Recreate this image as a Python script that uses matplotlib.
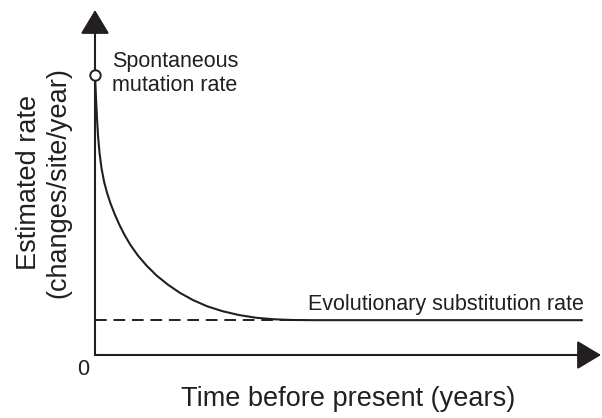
import matplotlib
matplotlib.use('Agg')
import matplotlib.pyplot as plt

plt.rcParams['font.family'] = ['Liberation Sans', 'DejaVu Sans']

# curve (arbitrary units, 0-100 on both axes)
time_pts = [0.0, 0.2, 0.4, 0.6, 0.9, 1.3, 1.8, 2.4, 3.1, 3.9, 4.8, 5.8, 7.0,
            8.5, 10.2, 12.2, 14.4, 16.8, 19.4, 22.2, 25.2, 28.4, 31.8, 35.4,
            39.0, 43.0, 96.4]
rate_pts = [81.2, 74.5, 68.5, 63.5, 58.5, 54.0, 50.2, 46.9, 43.8, 40.8, 37.8,
            34.9, 31.9, 28.8, 25.9, 23.0, 20.4, 18.0, 15.9, 14.1, 12.7, 11.6,
            10.8, 10.35, 10.15, 10.1, 10.1]
subst_rate = 10.1
dash_end = 41.5

ink = '#231f20'

fig = plt.figure(figsize=(6.02, 4.18), dpi=100)
W, H = 602.0, 418.0
ax = fig.add_axes([95 / W, (H - 355) / H, (601 - 95) / W, (355 - 10) / H])
ax.set_xlim(0, 100)
ax.set_ylim(0, 100)
for s in ax.spines.values():
    s.set_visible(False)
ax.set_xticks([])
ax.set_yticks([])
ax.patch.set_alpha(0)

# axes with arrow heads
arr = dict(arrowstyle='-|>,head_length=0.75,head_width=0.45', lw=1.5,
           color=ink, shrinkA=0, shrinkB=0, mutation_scale=20)
ax.annotate('', xy=(1, 0), xytext=(0, 0), xycoords='axes fraction',
            textcoords='axes fraction', arrowprops=arr)
ax.annotate('', xy=(0, 1), xytext=(0, 0), xycoords='axes fraction',
            textcoords='axes fraction', arrowprops=arr)

ax.plot([0, dash_end], [subst_rate, subst_rate], color=ink, lw=1.4,
        dashes=(6, 3.5), clip_on=False)
ax.plot(time_pts, rate_pts, color=ink, lw=1.5, clip_on=False,
        solid_capstyle='butt', solid_joinstyle='round')
ax.plot([time_pts[0]], [rate_pts[0]], 'o', ms=7.5, mfc='white', mec=ink,
        mew=1.4, clip_on=False, zorder=5)

ax.text(3.4, 81.6, 'Spontaneous\nmutation rate', ha='left', va='center',
        fontsize=15.5, color=ink)
ax.text(42.1, 13.0, 'Evolutionary substitution rate', ha='left',
        va='baseline', fontsize=15.5, color=ink)
ax.text(-2.3, -4.3, '0', ha='center', va='center', fontsize=15.5, color=ink)

ax.set_xlabel('Time before present (years)', fontsize=19.5, color=ink,
              labelpad=22)
ax.set_ylabel('Estimated rate\n(changes/site/year)', fontsize=19.5,
              color=ink, labelpad=17, linespacing=1.15)

fig.savefig('out.png', dpi=100)
